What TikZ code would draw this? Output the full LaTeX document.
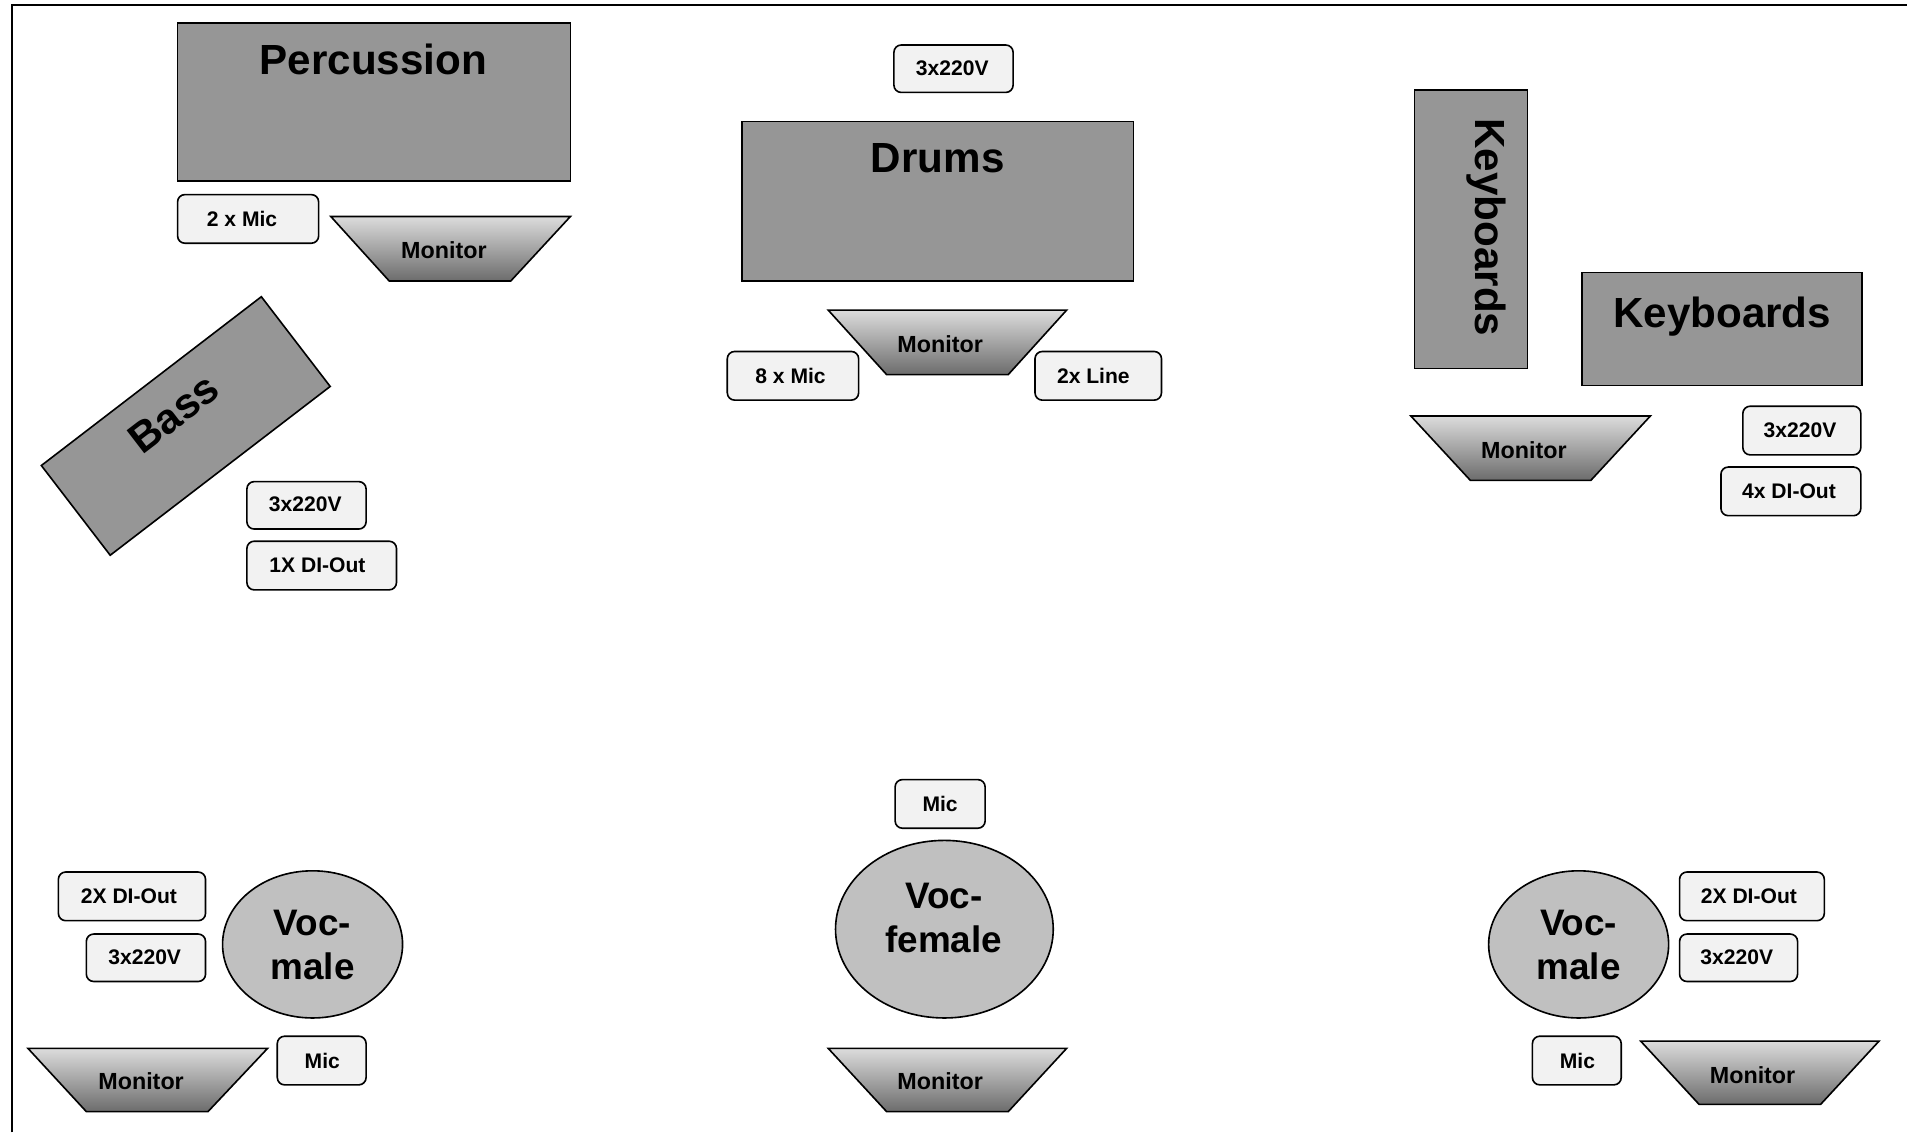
\documentclass[tikz,border=0pt]{standalone}
\usepackage{fontspec}
\setmainfont{Liberation Sans}
\usepackage{xcolor}
\usetikzlibrary{calc}

\definecolor{instrgray}{HTML}{969696}
\definecolor{vocgray}{HTML}{C0C0C0}
\definecolor{plugfill}{HTML}{F2F2F2}
\definecolor{montop}{HTML}{DCDCDC}
\definecolor{monbot}{HTML}{6C6C6C}

\begin{document}
\begin{tikzpicture}[x=0.6pt,y=-0.6pt,
        instr/.style={draw=black, fill=instrgray, line width=0.8pt},
        plug/.style={draw=black, fill=plugfill, rounded corners=3.6pt, line width=0.8pt},
        singer/.style={draw=black, fill=vocgray, line width=0.8pt},
        monitor/.style={draw=black, top color=montop, bottom color=monbot, line width=0.8pt},
        title/.style={font=\fontsize{20.8}{25}\selectfont\bfseries, inner sep=0pt},
        plugtxt/.style={font=\fontsize{10.4}{12}\selectfont\bfseries, inner sep=0pt},
        montxt/.style={font=\fontsize{11.5}{14}\selectfont\bfseries, inner sep=0pt},
        voctxt/.style={font=\fontsize{18.2}{21.5}\selectfont\bfseries, align=center, inner sep=0pt}]

        \useasboundingbox (0,0) rectangle (1568,931);
        \draw [line width=1.2pt] (10,931)--(10,4)--(1568,4);

        %percussion
        \draw [instr] (146,19) rectangle (469,149);
        \node [title] (perc) at (307,49) {Percussion};
        \draw [plug] (146,160) rectangle (262,200);
        \node [plugtxt] (percmic) at (199,180) {2 x Mic};
        \draw [monitor] (272,178)--(469,178)--(420,231)--(320,231)--cycle;
        \node [montxt] (percmon) at (365,206) {Monitor};

        %bass
        \draw [instr, rotate around={37.5:(152.75,350.25)}] (38.75,303.75) rectangle (266.75,396.75);
        \node [title, rotate=37.5] (bass) at (143,340) {Bass};
        \draw [plug] (203,396) rectangle (301,435);
        \node [plugtxt] (basspow) at (251,415) {3x220V};
        \draw [plug] (203,445) rectangle (326,485);
        \node [plugtxt] (bassdi) at (261,465) {1X DI-Out};

        %drums
        \draw [plug] (735,37) rectangle (833,76);
        \node [plugtxt] (drumpow) at (783,56) {3x220V};
        \draw [instr] (610,100) rectangle (932,231);
        \node [title] (drums) at (771,130) {Drums};
        \draw [monitor] (681,255)--(877,255)--(829,308)--(729,308)--cycle;
        \node [montxt] (drummon) at (773,283) {Monitor};
        \draw [plug] (598,289) rectangle (706,329);
        \node [plugtxt] (drummic) at (650,309) {8 x Mic};
        \draw [plug] (851,289) rectangle (955,329);
        \node [plugtxt] (drumline) at (899,309) {2x Line};

        %keyboards
        \draw [instr] (1163,74) rectangle (1256,303);
        \node [title, rotate=-90] (keysv) at (1222,187) {Keyboards};
        \draw [instr] (1301,224) rectangle (1531,317);
        \node [title] (keysh) at (1416,260) {Keyboards};
        \draw [monitor] (1160,342)--(1357,342)--(1308,395)--(1209,395)--cycle;
        \node [montxt] (keysmon) at (1253,370) {Monitor};
        \draw [plug] (1433,334) rectangle (1530,374);
        \node [plugtxt] (keyspow) at (1480,354) {3x220V};
        \draw [plug] (1415,384) rectangle (1530,424);
        \node [plugtxt] (keysdi) at (1471,404) {4x DI-Out};

        %vocals left
        \draw [plug] (48,717) rectangle (169,757);
        \node [plugtxt] (vldi) at (106,737) {2X DI-Out};
        \draw [plug] (71,768) rectangle (169,807);
        \node [plugtxt] (vlpow) at (119,787) {3x220V};
        \draw [singer] (257,776.5) ellipse [x radius=74, y radius=60.5];
        \node [voctxt] (vl) at (257,777) {Voc-\\male};
        \draw [monitor] (23,862)--(220,862)--(171,914)--(71,914)--cycle;
        \node [montxt] (vlmon) at (116,889) {Monitor};
        \draw [plug] (228,852) rectangle (301,892);
        \node [plugtxt] (vlmic) at (265,872) {Mic};

        %vocals centre
        \draw [plug] (736,641) rectangle (810,681);
        \node [plugtxt] (vcmic) at (773,661) {Mic};
        \draw [singer] (776.5,764) ellipse [x radius=89.5, y radius=73];
        \node [voctxt] (vc) at (776,755) {Voc-\\female};
        \draw [monitor] (681,862)--(877,862)--(829,914)--(729,914)--cycle;
        \node [montxt] (vcmon) at (773,889) {Monitor};

        %vocals right
        \draw [singer] (1298,776.5) ellipse [x radius=74, y radius=60.5];
        \node [voctxt] (vr) at (1298,777) {Voc-\\male};
        \draw [plug] (1381,717) rectangle (1500,757);
        \node [plugtxt] (vrdi) at (1438,737) {2X DI-Out};
        \draw [plug] (1381,768) rectangle (1478,807);
        \node [plugtxt] (vrpow) at (1428,787) {3x220V};
        \draw [plug] (1260,852) rectangle (1333,892);
        \node [plugtxt] (vrmic) at (1297,872) {Mic};
        \draw [monitor] (1349,856)--(1545,856)--(1497,908)--(1397,908)--cycle;
        \node [montxt] (vrmon) at (1441,884) {Monitor};

    \end{tikzpicture}
\end{document}
